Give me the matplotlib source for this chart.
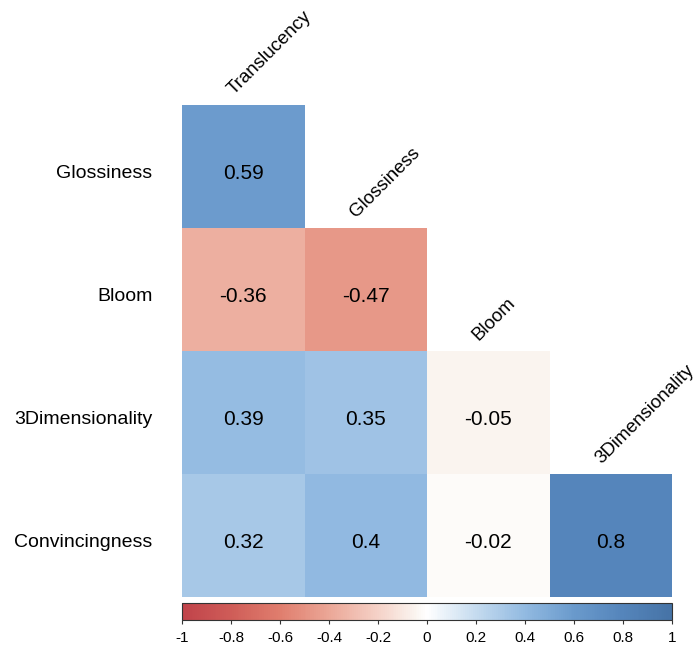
import numpy as np
import matplotlib
matplotlib.use("Agg")
import matplotlib.pyplot as plt
from matplotlib.colors import LinearSegmentedColormap, Normalize
from matplotlib.colorbar import ColorbarBase
import matplotlib.transforms as mtransforms

plt.rcParams['font.family'] = ['Liberation Sans', 'DejaVu Sans']

row_labels = ["Glossiness", "Bloom", "3Dimensionality", "Convincingness"]
col_labels = ["Translucency", "Glossiness", "Bloom", "3Dimensionality"]
values = [
    [0.59, None, None, None],
    [-0.36, -0.47, None, None],
    [0.39, 0.35, -0.05, None],
    [0.32, 0.40, -0.02, 0.80],
]
cbar_ticks = [-1, -0.8, -0.6, -0.4, -0.2, 0, 0.2, 0.4, 0.6, 0.8, 1]

cmap = LinearSegmentedColormap.from_list("corr", [
    (0.0, "#c0434a"), (0.1, "#cf5d58"), (0.2, "#e07e6e"), (0.3, "#eba797"),
    (0.4, "#f5d2c8"), (0.475, "#faf4ef"), (0.5, "#ffffff"), (0.6, "#c5dbef"), (0.7, "#92bae1"),
    (0.8, "#6a9acc"), (0.9, "#5585bb"), (1.0, "#4673a6")])
norm = Normalize(-1, 1)

W, H = 699, 648
fig = plt.figure(figsize=(W / 100, H / 100), dpi=100)
ax = fig.add_axes([182 / W, (H - 597) / H, 490 / W, 492 / H])

n = len(row_labels)
m = len(col_labels)
data = np.array([[np.nan if v is None else v for v in r] for r in values], dtype=float)
masked = np.ma.masked_invalid(data)
cm = cmap.copy()
cm.set_bad((1, 1, 1, 0))
ax.pcolormesh(np.arange(m + 1), np.arange(n + 1), masked, cmap=cm, norm=norm)
ax.set_xlim(0, m)
ax.set_ylim(n, 0)
ax.set_axis_off()

down = mtransforms.offset_copy(ax.transData, fig=fig, x=0, y=-5, units="points")
for i in range(n):
    for j in range(m):
        v = values[i][j]
        if v is None:
            continue
        ax.text(j + 0.5, i + 0.5, f"{v:g}", ha="center", va="center", fontsize=15,
                color="black", transform=down)

for i, lab in enumerate(row_labels):
    ax.text(-0.24, i + 0.5, lab, ha="right", va="center", fontsize=14, transform=down)

for j, lab in enumerate(col_labels):
    off = mtransforms.offset_copy(ax.transData, fig=fig, x=-7, y=7, units="points")
    ax.text(j + 0.5, j, lab, ha="left", va="baseline", rotation=45,
            rotation_mode="anchor", fontsize=13.5, transform=off)

cax = fig.add_axes([182 / W, (H - 620) / H, 490 / W, 17 / H])
cb = ColorbarBase(cax, cmap=cmap, norm=norm, orientation="horizontal", ticks=cbar_ticks)
cb.ax.set_xticklabels([f"{t:g}" for t in cbar_ticks], fontsize=11)
cb.outline.set_edgecolor("#333333")
cb.outline.set_linewidth(0.8)
cb.ax.tick_params(length=3, width=0.8, color="#333333", pad=5)

fig.savefig("out.png", dpi=100, facecolor="white")
